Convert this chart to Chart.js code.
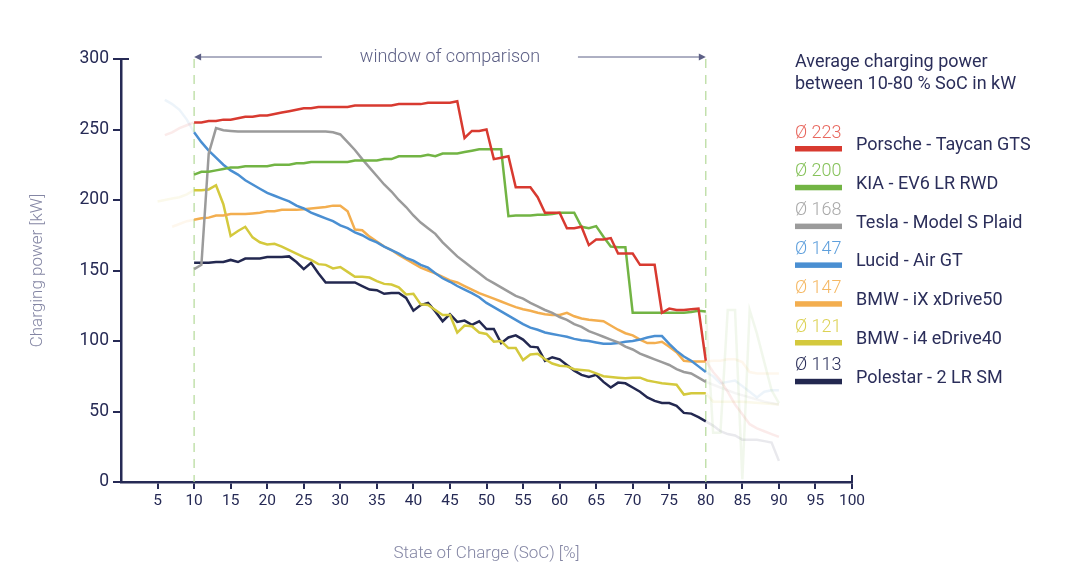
<!DOCTYPE html>
<html><head><meta charset="utf-8">
<script src="https://cdn.jsdelivr.net/npm/chart.js@4.4.1/dist/chart.umd.min.js"></script>
<style>html,body{margin:0;padding:0;background:#fff;}#wrap{width:1080px;height:584px;position:relative;}</style>
</head><body><div id="wrap"><canvas id="c" width="1080" height="584"></canvas></div>
<script>
// ---- data ----
const socWindow = [10,11,12,13,14,15,16,17,18,19,20,21,22,23,24,25,26,27,28,29,30,31,32,33,34,35,36,37,38,39,40,41,42,43,44,45,46,47,48,49,50,51,52,53,54,55,56,57,58,59,60,61,62,63,64,65,66,67,68,69,70,71,72,73,74,75,76,77,78,79,80];

const seriesNames = ["Porsche - Taycan GTS","KIA - EV6 LR RWD","Tesla - Model S Plaid","Lucid - Air GT","BMW - iX xDrive50","BMW - i4 eDrive40","Polestar - 2 LR SM"];
const seriesAverages = ["Ø 223","Ø 200","Ø 168","Ø 147","Ø 147","Ø 121","Ø 113"];
const seriesColors = ["#d83a30","#72b444","#9b9b9b","#4a8fd2","#f3ae4f","#d4c93d","#232850"];
const seriesValueColors = ["#e8675e","#86c25a","#a9a9a9","#5e9fdc","#f5b863","#dcd255","#2b2f5a"];

const porscheKw = [255,255,256,256,257,257,258,259,259,260,260,261,262,263,264,265,265,266,266,266,266,266,267,267,267,267,267,267,268,268,268,268,269,269,269,269,270,244,249,249,250,229,230,231,209,209,209,202,191,191,191,180,180,181,168,172,172,173,162,162,162,154,154,154,120,123,122,122,122.5,123,86];
const kiaKw = [218,220,220,221,222,223,223,224,224,224,224,225,225,225,226,226,227,227,227,227,227,227,228,228,228,228,229,229,231,231,231,231,232,231,233,233,233,234,235,236,236,236,236,188.5,189,189,189,189.5,189.5,190,191,191,191,181,180,181.5,174,167,166.5,166.5,120,120,120,120,120,120,120,120,120.5,121.5,121];
const teslaKw = [151,154,233,251,249.5,249,248.5,248.5,248.5,248.5,248.5,248.5,248.5,248.5,248.5,248.5,248.5,248.5,248.5,248,246.5,241,235.5,229,223,217,211,206,200,195,189,184,180,176,170,165,160,156,152,148,144,141,138,135,132,130,127,124.5,122,120,117,115,112,110,107,105,103,101,99,96,94,91,89,87,85,83,80,78,77,74,71];
const lucidKw = [248,241,235,230,225,221,218,214,211,208,205,203,201,199,196,194,191,189,187,185,182,180,177,175,172,170,167,164.5,162,159,157,154,152,148,144.5,142,139,136.5,134,131,127,124,121,118,115,112,109.5,108,106,105,104,103,101.5,100.5,100,99,98,98,98.5,99.5,100,101,102.5,103.5,103.5,98,93,89,86,82,78];
const bmwIxKw = [186,187,187.5,189,189,190,190,190,190.5,191,192,192,193,193,193,193.5,194,194.5,195,196,196,192,179,178.5,174,170.5,167,164.5,161,158,155,152,150,148,145.5,143,141.5,139,136.5,134,132,130,128,126,124,122.5,121.5,120,119,118.5,118.5,120,117.5,116,115,114.5,114,111,108,105.5,104,101,98.5,98.5,99.5,96,92,86,85.5,85.5,85.5];
const bmwI4Kw = [207,207,207.5,210.5,197,174.5,178,181,173.5,170,168.5,169,167,164.5,162,159.5,157.5,154.5,154,151.5,152.5,149,145.5,145.5,145,142.5,140.5,140,138,133,133.5,126,125.5,122,118.5,118.5,106,111,110.5,106,105,99.5,100,95,95,86.5,90.5,91,87,84,82.5,82,80,79.5,79,77,75,74.5,74,73.5,74,74,72,71,70,69.5,69,62,63,63,63];
const polestarKw = [155.5,155.5,155.5,156,156,157.5,156,158.5,158.5,158.5,159.5,159.5,159.5,160,156,151,155.5,148,141.5,141.5,141.5,141.5,141.5,139,136.5,136,133.5,134,134,130.5,121.5,125.5,127,121,114,119,113.5,114.5,111.5,114,108.5,108.5,98.5,102.5,104,101,96,95.5,86,88.5,87,83,79,76,74.5,76,71,67,70.5,70,67,64,60,57.5,56,56,54,49,48.5,46,43];

// faded parts outside the comparison window
const porscheBeforeSoc = [6,7,8,9], porscheBeforeKw = [246,248,251,253];
const porscheAfterSoc = [81,82,83,84,85,86,87,88,89,90], porscheAfterKw = [78,72,64,55,48,41,38,36,34,32];
const kiaAfterSoc = [81,82,83,84,85,86,87,88,89,90], kiaAfterKw = [35,35,122,122,2,122,105,85,65,56];
const teslaAfterSoc = [82,84,86,88,90], teslaAfterKw = [67,63,60,57,55];
const lucidBeforeSoc = [6,7,8,9], lucidBeforeKw = [271,268,264,257];
const lucidAfterSoc = [81,82,83,84,85,86,87,88,89,90], lucidAfterKw = [75,70,71,72,68,64,60,64,65,65];
const bmwIxBeforeSoc = [7,8,9], bmwIxBeforeKw = [181,183,185];
const bmwIxAfterSoc = [81,82,83,84,85,86,87,88,89,90], bmwIxAfterKw = [86,86,87,87,85,78,77,77,77,77];
const bmwI4BeforeSoc = [5,7,8,9], bmwI4BeforeKw = [199,201,202,204];
const bmwI4AfterSoc = [81,85,90], bmwI4AfterKw = [57,57,55];
const polestarAfterSoc = [81,82,83,84,85,86,87,88,89,90], polestarAfterKw = [40,36,34,33,30,30,30,29,28,15];

const xTicks = [5,10,15,20,25,30,35,40,45,50,55,60,65,70,75,80,85,90,95,100];
const yTicks = [0,50,100,150,200,250,300];
const windowStart = 10, windowEnd = 80;

// ---- build ----
function pts(bs, bk, win, as, ak) {
  const out = [];
  bs.forEach((s, i) => out.push({x: s, y: bk[i]}));
  socWindow.forEach((s, i) => out.push({x: s, y: win[i]}));
  as.forEach((s, i) => out.push({x: s, y: ak[i]}));
  return out;
}
const seriesData = [
  pts(porscheBeforeSoc, porscheBeforeKw, porscheKw, porscheAfterSoc, porscheAfterKw),
  pts([], [], kiaKw, kiaAfterSoc, kiaAfterKw),
  pts([], [], teslaKw, teslaAfterSoc, teslaAfterKw),
  pts(lucidBeforeSoc, lucidBeforeKw, lucidKw, lucidAfterSoc, lucidAfterKw),
  pts(bmwIxBeforeSoc, bmwIxBeforeKw, bmwIxKw, bmwIxAfterSoc, bmwIxAfterKw),
  pts(bmwI4BeforeSoc, bmwI4BeforeKw, bmwI4Kw, bmwI4AfterSoc, bmwI4AfterKw),
  pts([], [], polestarKw, polestarAfterSoc, polestarAfterKw)
];
function fade(hex, a) {
  const n = parseInt(hex.slice(1), 16);
  return `rgba(${(n>>16)&255},${(n>>8)&255},${n&255},${a})`;
}
const datasets = seriesNames.map((name, i) => ({
  label: name,
  data: seriesData[i],
  borderColor: seriesColors[i],
  borderWidth: 2.5,
  pointRadius: 0,
  tension: 0,
  fill: false,
  segment: {
    borderColor: ctx => (ctx.p0.parsed.x < windowStart || ctx.p1.parsed.x > windowEnd) ? fade(seriesColors[i], 0.1) : undefined
  }
}));

const NAVY = '#262a55';
const FONT = "Roboto, 'Noto Sans', sans-serif";

const deco = {
  id: 'deco',
  beforeDatasetsDraw(chart) {
    const {ctx, chartArea, scales} = chart;
    ctx.save();
    ctx.strokeStyle = '#b3d998';
    ctx.lineWidth = 1.2;
    ctx.setLineDash([9, 7]);
    [windowStart, windowEnd].forEach(v => {
      const x = scales.x.getPixelForValue(v);
      ctx.beginPath(); ctx.moveTo(x, chartArea.top); ctx.lineTo(x, chartArea.bottom); ctx.stroke();
    });
    ctx.restore();
  },
  afterDraw(chart) {
    const {ctx, chartArea, scales} = chart;
    ctx.save();
    // axis end caps
    ctx.strokeStyle = NAVY; ctx.lineWidth = 2;
    const xr = scales.x.getPixelForValue(100);
    ctx.beginPath(); ctx.moveTo(xr, chartArea.bottom - 7); ctx.lineTo(xr, chartArea.bottom); ctx.stroke();
    const yt = scales.y.getPixelForValue(300);
    ctx.beginPath(); ctx.moveTo(chartArea.left, yt); ctx.lineTo(chartArea.left + 8, yt); ctx.stroke();

    // window of comparison arrows
    const x1 = scales.x.getPixelForValue(windowStart), x2 = scales.x.getPixelForValue(windowEnd);
    const ay = chartArea.top - 2;
    const mid = (x1 + x2) / 2;
    ctx.strokeStyle = '#5d6086'; ctx.fillStyle = '#5d6086'; ctx.lineWidth = 1;
    ctx.beginPath(); ctx.moveTo(x1 + 2, ay); ctx.lineTo(mid - 128, ay); ctx.stroke();
    ctx.beginPath(); ctx.moveTo(mid + 128, ay); ctx.lineTo(x2 - 2, ay); ctx.stroke();
    ctx.beginPath(); ctx.moveTo(x1, ay); ctx.lineTo(x1 + 7, ay - 3.5); ctx.lineTo(x1 + 7, ay + 3.5); ctx.closePath(); ctx.fill();
    ctx.beginPath(); ctx.moveTo(x2, ay); ctx.lineTo(x2 - 7, ay - 3.5); ctx.lineTo(x2 - 7, ay + 3.5); ctx.closePath(); ctx.fill();
    ctx.font = `300 18px ${FONT}`;
    ctx.textAlign = 'center'; ctx.textBaseline = 'middle';
    ctx.fillText('window of comparison', mid, ay);

    // legend
    const lx = 795;
    ctx.textAlign = 'left'; ctx.textBaseline = 'middle';
    ctx.fillStyle = '#2b2e5a';
    ctx.font = `400 18px ${FONT}`;
    ctx.fillText('Average charging power', lx, 62);
    ctx.fillText('between 10-80 % SoC in kW', lx, 84);
    seriesNames.forEach((name, i) => {
      const dy = i * 38.8;
      ctx.fillStyle = seriesValueColors[i];
      ctx.font = `300 18px ${FONT}`;
      ctx.fillText(seriesAverages[i], lx, 133 + dy);
      ctx.fillStyle = seriesColors[i];
      ctx.fillRect(lx, 146 + dy, 47, 5.5);
      ctx.fillStyle = '#2b2e5a';
      ctx.font = `400 18px ${FONT}`;
      ctx.fillText(name, lx + 61, 145.5 + dy);
    });
    ctx.restore();
  }
};

new Chart(document.getElementById('c'), {
  type: 'line',
  data: {datasets},
  options: {
    responsive: false,
    animation: false,
    devicePixelRatio: 1,
    layout: {padding: {left: 0, right: 228, top: 59, bottom: 20}},
    plugins: {legend: {display: false}, tooltip: {enabled: false}},
    scales: {
      x: {
        type: 'linear', min: 0, max: 100,
        afterBuildTicks: s => { s.ticks = xTicks.map(v => ({value: v})); },
        afterFit: s => { s.height = 82; },
        border: {display: true, color: NAVY, width: 2.5},
        grid: {display: true, drawOnChartArea: false, drawTicks: true, tickLength: 7, color: NAVY, lineWidth: 2},
        ticks: {color: NAVY, font: {family: FONT, size: 15.5}, padding: 3, maxRotation: 0, autoSkip: false},
        title: {display: true, text: 'State of Charge (SoC) [%]', color: '#8486a4', font: {family: FONT, size: 17, weight: 300}, padding: {top: 0, bottom: 0}}
      },
      y: {
        type: 'linear', min: 0, max: 300,
        afterBuildTicks: s => { s.ticks = yTicks.map(v => ({value: v})); },
        afterFit: s => { s.width = 121; },
        border: {display: true, color: NAVY, width: 2.5},
        grid: {display: true, drawOnChartArea: false, drawTicks: true, tickLength: 8, color: NAVY, lineWidth: 2},
        ticks: {color: NAVY, font: {family: FONT, size: 17.5}, padding: 4},
        title: {display: true, text: 'Charging power [kW]', color: '#8486a4', font: {family: FONT, size: 17, weight: 300}, padding: {top: 28, bottom: 0}}
      }
    }
  },
  plugins: [deco]
});
</script></body></html>
